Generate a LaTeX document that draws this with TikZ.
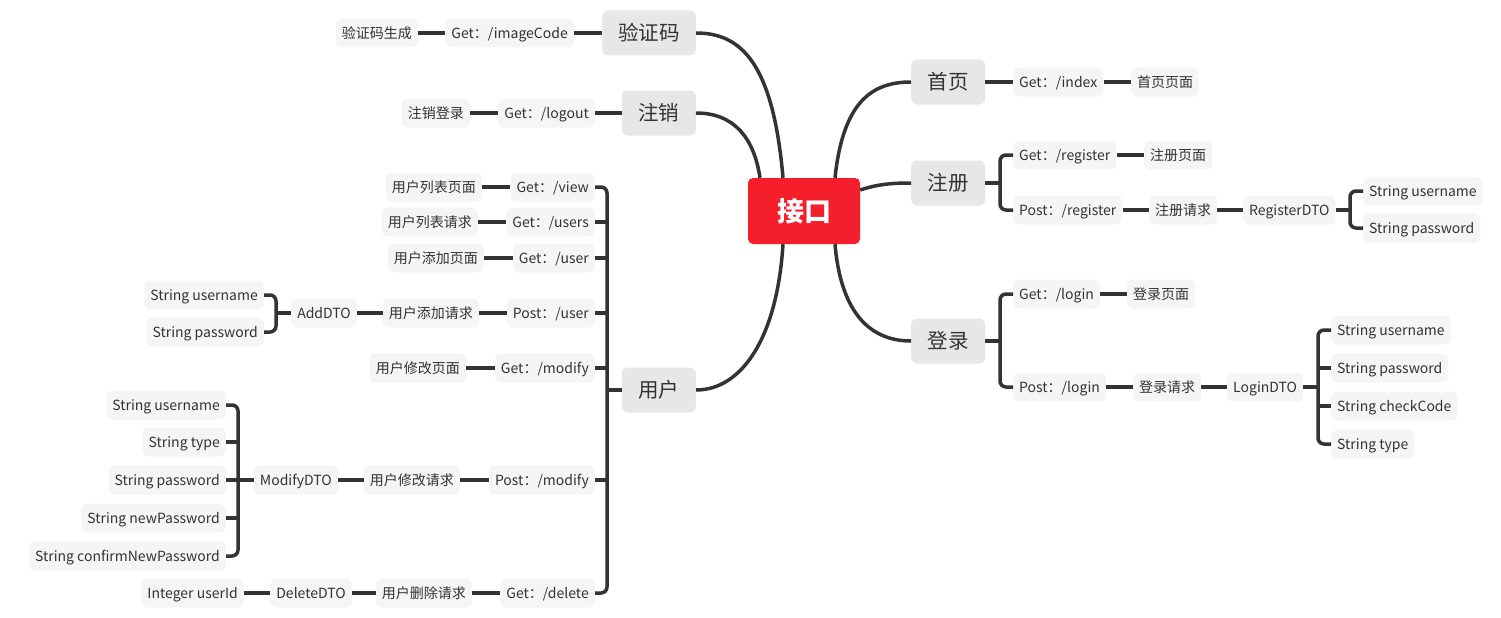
\documentclass[tikz,border=0pt]{standalone}
\usepackage{fontspec}
\setmainfont{Noto Sans CJK SC}
\definecolor{rootred}{RGB}{245,31,44}
\definecolor{topicgray}{RGB}{231,231,231}
\definecolor{leafgray}{RGB}{245,245,245}
\definecolor{linec}{RGB}{51,51,51}
\definecolor{txtc}{RGB}{51,51,51}
\begin{document}
\begin{tikzpicture}[x=1pt,y=-1pt,
  rootbox/.style={fill=rootred, rounded corners=5pt, minimum width=112pt, minimum height=66pt, text=white, font=\fontsize{27}{30}\selectfont\bfseries, inner sep=0pt, text height=23.5pt, text depth=3.5pt},
  topic/.style={fill=topicgray, rounded corners=6pt, minimum width=74pt, minimum height=45pt, text=txtc, font=\fontsize{20.5}{23}\selectfont, inner ysep=0pt, inner xsep=16pt, text height=17.8pt, text depth=2.7pt},
  leaf/.style={fill=leafgray, rounded corners=6pt, minimum height=29pt, inner xsep=6pt, inner ysep=0pt, text=txtc, font=\fontsize{14}{16}\selectfont, text height=12pt, text depth=2pt},
  L/.style={leaf, anchor=east},
  R/.style={leaf, anchor=west},
  conn/.style={draw=linec, line width=3.5pt},
  brk/.style={conn, rounded corners=6pt}
]
\useasboundingbox (0,0) rectangle (1501,618);
% root
\node[rootbox] (root) at (804,211) {接口};
% main topics
\node[topic, anchor=east] (vc) at (696,33) {验证码};
\node[topic, anchor=east] (zx) at (696,113) {注销};
\node[topic, anchor=east] (yh) at (696,390) {用户};
\node[topic, anchor=west] (sy) at (911,82) {首页};
\node[topic, anchor=west] (zc) at (911,183) {注册};
\node[topic, anchor=west] (dl) at (911,341) {登录};
% left leaves
\node[L] (imgc) at (574,33) {Get：/imageCode};
\node[L] (vcgen) at (418,33) {验证码生成};
\node[L] (logout) at (595,113) {Get：/logout};
\node[L] (zxdl) at (470,113) {注销登录};
\node[L] (view) at (595,187) {Get：/view};
\node[L] (lbym) at (482,187) {用户列表页面};
\node[L] (users) at (595,222) {Get：/users};
\node[L] (lbqq) at (478,222) {用户列表请求};
\node[L] (getuser) at (595,258) {Get：/user};
\node[L] (tjym) at (484,258) {用户添加页面};
\node[L] (postuser) at (595,313) {Post：/user};
\node[L] (tjqq) at (479,313) {用户添加请求};
\node[L] (adddto) at (357,313) {AddDTO};
\node[L] (au) at (264,295) {String username};
\node[L] (ap) at (264,332) {String password};
\node[L] (getmod) at (595,368) {Get：/modify};
\node[L] (xgym) at (466,368) {用户修改页面};
\node[L] (postmod) at (595,480) {Post：/modify};
\node[L] (xgqq) at (460,480) {用户修改请求};
\node[L] (moddto) at (338,480) {ModifyDTO};
\node[L] (mu) at (226,405) {String username};
\node[L] (mt) at (226,442) {String type};
\node[L] (mp) at (226,480) {String password};
\node[L] (mnp) at (226,518) {String newPassword};
\node[L] (mcnp) at (226,556) {String confirmNewPassword};
\node[L] (del) at (595,593) {Get：/delete};
\node[L] (scqq) at (472,593) {用户删除请求};
\node[L] (deldto) at (352,593) {DeleteDTO};
\node[L] (uid) at (244,593) {Integer userId};
% right leaves
\node[R] (index) at (1013,82) {Get：/index};
\node[R] (syym) at (1131,82) {首页页面};
\node[R] (getreg) at (1013,155) {Get：/register};
\node[R] (zcym) at (1144,155) {注册页面};
\node[R] (postreg) at (1013,210) {Post：/register};
\node[R] (zcqq) at (1149,210) {注册请求};
\node[R] (regdto) at (1243,210) {RegisterDTO};
\node[R] (ru) at (1363,191) {String username};
\node[R] (rp) at (1363,228) {String password};
\node[R] (getlogin) at (1013,294) {Get：/login};
\node[R] (dlym) at (1127,294) {登录页面};
\node[R] (postlogin) at (1013,387) {Post：/login};
\node[R] (dlqq) at (1133,387) {登录请求};
\node[R] (logindto) at (1227,387) {LoginDTO};
\node[R] (lu) at (1331,330) {String username};
\node[R] (lp) at (1331,368) {String password};
\node[R] (lcc) at (1331,406) {String checkCode};
\node[R] (lt) at (1331,444) {String type};
% curves from root
\draw[conn] ([xshift=-21pt]root.north) .. controls +(-10,-115) and +(45,0) .. (vc.east);
\draw[conn] ([xshift=-44pt]root.north) .. controls +(-6,-40) and +(38,0) .. (zx.east);
\draw[conn] ([xshift=-21pt]root.south) .. controls +(-6,95) and +(45,0) .. (yh.east);
\draw[conn] ([xshift=31pt]root.north) .. controls +(8,-75) and +(-40,0) .. (sy.west);
\draw[conn] ([yshift=21pt]root.east) .. controls +(18,-6) and +(-18,0) .. (zc.west);
\draw[conn] ([xshift=31pt]root.south) .. controls +(6,70) and +(-40,0) .. (dl.west);
% straight chains
\draw[conn] (vcgen) -- (imgc);
\draw[conn] (imgc) -- (vc);
\draw[conn] (zxdl) -- (logout);
\draw[conn] (logout) -- (zx);
\draw[conn] (lbym) -- (view);
\draw[conn] (lbqq) -- (users);
\draw[conn] (tjym) -- (getuser);
\draw[conn] (adddto) -- (tjqq);
\draw[conn] (tjqq) -- (postuser);
\draw[conn] (xgym) -- (getmod);
\draw[conn] (moddto) -- (xgqq);
\draw[conn] (xgqq) -- (postmod);
\draw[conn] (uid) -- (deldto);
\draw[conn] (deldto) -- (scqq);
\draw[conn] (scqq) -- (del);
\draw[conn] (sy) -- (index);
\draw[conn] (index) -- (syym);
\draw[conn] (getreg) -- (zcym);
\draw[conn] (postreg) -- (zcqq);
\draw[conn] (zcqq) -- (regdto);
\draw[conn] (getlogin) -- (dlym);
\draw[conn] (postlogin) -- (dlqq);
\draw[conn] (dlqq) -- (logindto);
% user bracket
\draw[brk] (view.east) -- ++(12,0) |- (del.east);
\draw[conn] (users.east) -- ++(12,0);
\draw[conn] (getuser.east) -- ++(12,0);
\draw[conn] (postuser.east) -- ++(12,0);
\draw[conn] (getmod.east) -- ++(12,0);
\draw[conn] (postmod.east) -- ++(12,0);
\draw[conn] (yh.west) -- ++(-16,0);
% AddDTO bracket
\draw[brk] (au.east) -- ++(12,0) |- (ap.east);
\draw[conn] (adddto.west) -- ++(-15,0);
% ModifyDTO bracket
\draw[brk] (mu.east) -- ++(12,0) |- (mcnp.east);
\draw[conn] (mt.east) -- ++(12,0);
\draw[conn] (mp.east) -- ++(12,0);
\draw[conn] (mnp.east) -- ++(12,0);
\draw[conn] (moddto.west) -- ++(-15,0);
% register bracket
\draw[brk] (getreg.west) -- ++(-13,0) |- (postreg.west);
\draw[conn] (zc.east) -- ++(16,0);
% RegisterDTO bracket
\draw[brk] (ru.west) -- ++(-13,0) |- (rp.west);
\draw[conn] (regdto.east) -- ++(15,0);
% login bracket
\draw[brk] (getlogin.west) -- ++(-13,0) |- (postlogin.west);
\draw[conn] (dl.east) -- ++(16,0);
% LoginDTO bracket
\draw[brk] (lu.west) -- ++(-13,0) |- (lt.west);
\draw[conn] (lp.west) -- ++(-13,0);
\draw[conn] (lcc.west) -- ++(-13,0);
\draw[conn] (logindto.east) -- ++(14,0);
\end{tikzpicture}
\end{document}
